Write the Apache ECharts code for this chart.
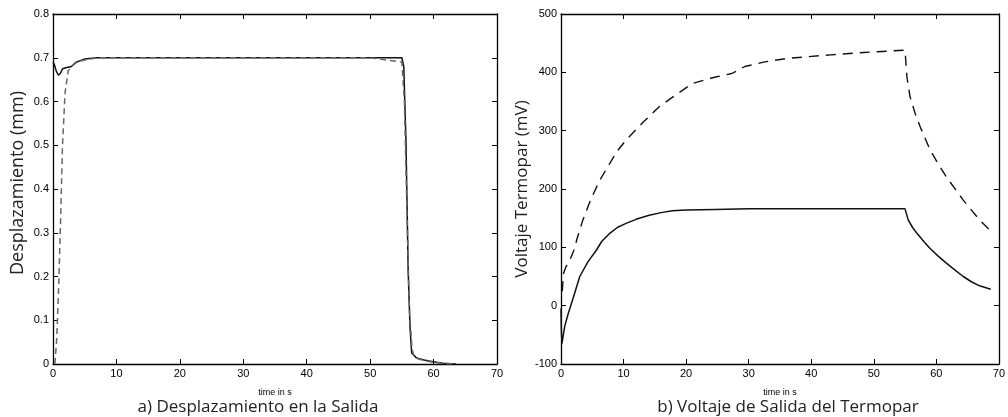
<!DOCTYPE html>
<html>
<head>
<meta charset="utf-8">
<script src="https://cdn.jsdelivr.net/npm/echarts@6/dist/echarts.min.js"></script>
<style>
  html, body { margin: 0; padding: 0; background: #fff; }
  #chart { width: 1008px; height: 417px; }
</style>
</head>
<body>
<div id="chart"></div>
<script>
// a) desplazamiento (mm)
const dispSolidT = [0, 0.2, 0.5, 0.85, 1.2, 1.5, 2.0, 2.9, 3.7, 5, 6.9, 10, 20, 30, 40, 50, 55.0, 55.3, 55.65, 56.0, 56.3, 56.55, 57.3, 58.5, 59.9, 61.5, 62.9, 63.5];
const dispSolid = [0.69, 0.685, 0.67, 0.66, 0.665, 0.675, 0.677, 0.68, 0.69, 0.697, 0.7, 0.7, 0.7, 0.7, 0.7, 0.7, 0.7, 0.68, 0.51, 0.21, 0.08, 0.025, 0.014, 0.009, 0.005, 0.002, 0.0005, 0];
const dispDashT = [0.3, 0.6, 0.9, 1.2, 1.5, 1.9, 2.4, 2.9, 3.6, 5, 7, 10, 20, 30, 40, 50, 55.0, 55.4, 55.8, 56.2, 56.6, 56.9, 57.5, 58.5, 60, 61.5, 63, 63.5];
const dispDash = [0, 0.06, 0.18, 0.33, 0.5, 0.62, 0.67, 0.68, 0.69, 0.695, 0.7, 0.7, 0.7, 0.7, 0.7, 0.7, 0.69, 0.6, 0.35, 0.12, 0.035, 0.018, 0.012, 0.008, 0.004, 0.001, 0.0003, 0];

// b) voltaje termopar (mV)
const voltSolidT = [0, 0.05, 0.15, 0.6, 1.17, 2, 3, 4.3, 5.65, 6.5, 7.8, 9, 10.4, 12, 14.1, 16, 17.8, 20, 24.7, 30, 40, 50, 55, 55.5, 56.2, 56.9, 58, 59, 60.3, 61.6, 63, 64.3, 65.6, 66.9, 67.8, 68.7];
const voltSolid = [-5, -40, -65, -35, -13, 15, 50, 75, 95, 110, 124, 134, 141, 148, 155, 159.5, 162.8, 164, 165, 166, 166, 166, 166, 147, 134, 124, 110, 98, 85, 73, 61, 50, 41, 34, 31, 28];
const voltDashT = [0.2, 0.4, 0.8, 1.3, 2.06, 2.6, 3.5, 4.8, 6.2, 7.8, 9, 10.4, 13, 15.7, 18.3, 21, 24.7, 27.3, 29.4, 32.6, 36.3, 43.1, 48.4, 55, 55.3, 55.8, 56.6, 57.4, 59, 60.3, 61.6, 64.3, 66.9, 68.5];
const voltDash = [25, 55, 67, 75, 95, 116, 147, 183, 215, 244, 265, 284, 313, 341, 361, 381, 392, 398, 410, 418, 424, 430, 434, 438, 392, 358, 330, 307, 267, 243, 221, 181, 147, 130];

const xTicks = { min: 0, max: 70, interval: 10 };
const dispTicks = { min: 0, max: 0.8, interval: 0.1 };
const voltTicks = { min: -100, max: 500, interval: 100 };

const pairs = (ts, vs) => ts.map((t, i) => [t, vs[i]]);

const labelStyle = { fontFamily: "Liberation Sans", fontSize: 11, color: "#000" };
const lineStyle = { color: "#000", width: 1.3 };
const titleFont = "Open Sans";

function axis(grid, ticks, position, labels, extra) {
  return Object.assign({
    type: "value",
    gridIndex: grid,
    position: position,
    min: ticks.min,
    max: ticks.max,
    interval: ticks.interval,
    axisLine: { show: true, onZero: false, lineStyle: lineStyle },
    axisTick: { show: true, inside: true, length: 5, lineStyle: { color: "#000", width: 1 } },
    axisLabel: Object.assign({ show: labels, margin: 4 }, labelStyle),
    splitLine: { show: false },
  }, extra || {});
}

const chart = echarts.init(document.getElementById("chart"));
const option = {
  animation: false,
  grid: [
    { left: 53, top: 14, width: 444, height: 350 },
    { left: 561, top: 14, width: 442, height: 350 },
  ],
  xAxis: [
    axis(0, xTicks, "bottom", true, {
      name: "time in s", nameLocation: "middle", nameGap: 24,
      nameTextStyle: { fontFamily: "Liberation Sans", fontSize: 9, color: "#000" },
    }),
    axis(0, xTicks, "top", false),
    axis(1, xTicks, "bottom", true, {
      name: "time in s", nameLocation: "middle", nameGap: 24,
      nameTextStyle: { fontFamily: "Liberation Sans", fontSize: 9, color: "#000" },
    }),
    axis(1, xTicks, "top", false),
  ],
  yAxis: [
    axis(0, dispTicks, "left", true, {
      name: "Desplazamiento (mm)", nameLocation: "middle", nameGap: 26,
      nameTextStyle: { fontFamily: titleFont, fontSize: 18, color: "#222", padding: [0, 0, 0, 12] },
    }),
    axis(0, dispTicks, "right", false),
    axis(1, voltTicks, "left", true, {
      name: "Voltaje Termopar (mV)", nameLocation: "middle", nameGap: 21,
      nameTextStyle: { fontFamily: titleFont, fontSize: 17, color: "#222" },
    }),
    axis(1, voltTicks, "right", false),
  ],
  series: [
    {
      type: "line", xAxisIndex: 0, yAxisIndex: 0, symbol: "none",
      lineStyle: { color: "#111", width: 1.5 },
      data: pairs(dispSolidT, dispSolid),
    },
    {
      type: "line", xAxisIndex: 0, yAxisIndex: 0, symbol: "none",
      lineStyle: { color: "#666", width: 1.5, type: [6, 4] },
      data: pairs(dispDashT, dispDash),
    },
    {
      type: "line", xAxisIndex: 2, yAxisIndex: 2, symbol: "none",
      lineStyle: { color: "#111", width: 1.5 },
      data: pairs(voltSolidT, voltSolid),
    },
    {
      type: "line", xAxisIndex: 2, yAxisIndex: 2, symbol: "none",
      lineStyle: { color: "#111", width: 1.4, type: [10, 7] },
      data: pairs(voltDashT, voltDash),
    },
  ],
  graphic: [
    {
      type: "text", x: 258, y: 407,
      style: { text: "a) Desplazamiento en la Salida", textAlign: "center", textVerticalAlign: "middle",
        font: "17px '" + titleFont + "'", fill: "#222" },
    },
    {
      type: "text", x: 788, y: 407,
      style: { text: "b) Voltaje de Salida del Termopar", textAlign: "center", textVerticalAlign: "middle",
        font: "17px '" + titleFont + "'", fill: "#222" },
    },
  ],
};
option && chart.setOption(option);
</script>
</body>
</html>
